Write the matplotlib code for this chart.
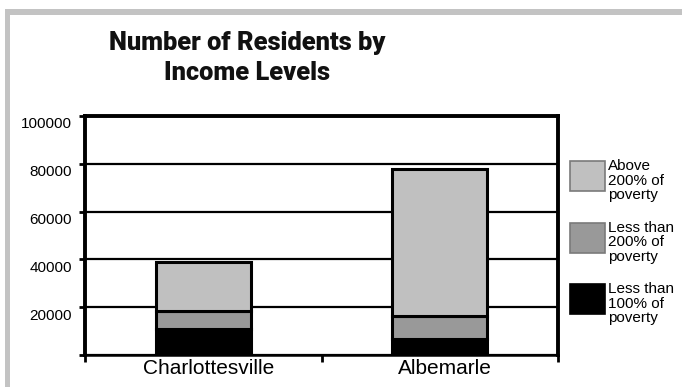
import matplotlib
matplotlib.use("Agg")
import matplotlib.pyplot as plt
from matplotlib.patches import Rectangle
from matplotlib.ticker import FixedLocator, FuncFormatter
import matplotlib.transforms as mtransforms
from matplotlib import font_manager
import numpy as np

plt.rcParams['font.family'] = ['Liberation Sans', 'DejaVu Sans']

# ---- data ----
categories = ["Charlottesville", "Albemarle"]
below_100 = [11000, 6700]
between_100_200 = [7300, 9600]
above_200 = [20700, 61700]
series_labels = ["Less than\n100% of\npoverty", "Less than\n200% of\npoverty", "Above\n200% of\npoverty"]
series_colors = ["#000000", "#999999", "#c0c0c0"]
y_ticks = [0, 20000, 40000, 60000, 80000, 100000]
title = "Number of Residents by\nIncome Levels"

W, H = 682, 387
fig = plt.figure(figsize=(W / 100, H / 100), dpi=100)

def px(x0, y0, x1, y1):
    return [x0 / W, 1 - y1 / H, (x1 - x0) / W, (y1 - y0) / H]

ax = fig.add_axes(px(85, 116, 558, 355))

x = np.arange(len(categories))
series = [below_100, between_100_200, above_200]
bottom = np.zeros(len(categories))
for vals, col in zip(series, series_colors):
    ax.bar(x, vals, width=0.4, bottom=bottom, color=col, edgecolor="black",
           linewidth=2.2, zorder=3)
    bottom += np.array(vals)

ax.set_xlim(-0.5, 1.5)
ax.set_ylim(0, 100000)

ax.yaxis.set_major_locator(FixedLocator(y_ticks))
ax.yaxis.set_major_formatter(FuncFormatter(lambda v, p: "" if v == 0 else f"{int(v)}"))
ax.grid(axis="y", color="black", linewidth=1.6, zorder=0)
ax.set_axisbelow(True)

ax.set_xticks(x)
ax.set_xticklabels(categories, fontsize=15)
ax.tick_params(axis="x", which="major", length=0, pad=3)
ax.set_xticks([-0.5, 0.5, 1.5], minor=True)
ax.tick_params(axis="x", which="minor", length=5, width=2, direction="out", color="black")
ax.tick_params(axis="y", length=4.5, width=2, pad=5, labelsize=11, color="black")

offset = mtransforms.ScaledTranslation(0, -7 / 100, fig.dpi_scale_trans)
for lbl in ax.get_yticklabels():
    lbl.set_transform(lbl.get_transform() + offset)
offx = mtransforms.ScaledTranslation(5 / 100, 0, fig.dpi_scale_trans)
for lbl in ax.get_xticklabels():
    lbl.set_transform(lbl.get_transform() + offx)

for s in ["left", "top", "right"]:
    ax.spines[s].set_linewidth(2.8)
ax.spines["bottom"].set_linewidth(1.8)

# title font: heaviest narrow-ish font available
fonts = font_manager.fontManager.ttflist
def has(name, minw):
    return any(f.name == name and int(f.weight) >= minw for f in fonts)
choice = ("Liberation Sans", "bold")
for fam, w in [("Roboto", 900), ("Inter", 900), ("Lato", 900), ("Open Sans", 800)]:
    if has(fam, w):
        choice = (fam, w)
        break
fig.text(247 / W, 1 - 31 / H, title, ha="center", va="top", fontsize=18.3,
         fontweight=choice[1], linespacing=1.3, color="#111111", family=[choice[0]])

# legend (manual)
order = [2, 1, 0]
for i, k in enumerate(order):
    top = 161 + i * 61.5
    ec = "#7a7a7a" if k != 0 else "black"
    fig.patches.append(Rectangle((570 / W, 1 - (top + 30) / H), 35 / W, 30 / H,
                                 transform=fig.transFigure, facecolor=series_colors[k],
                                 edgecolor=ec, linewidth=1.2))
    fig.text(608 / W, 1 - (top - 2) / H, series_labels[k], ha="left", va="top",
             fontsize=11, linespacing=1.05)

# gray frame
fig.patches.append(Rectangle((5 / W, 1 - 15 / H), (W - 5) / W, 6 / H,
                             transform=fig.transFigure, facecolor="#c3c3c3", edgecolor="none"))
fig.patches.append(Rectangle((5 / W, 0), 5 / W, (H - 9) / H,
                             transform=fig.transFigure, facecolor="#c3c3c3", edgecolor="none"))

fig.savefig("out.png", dpi=100)
